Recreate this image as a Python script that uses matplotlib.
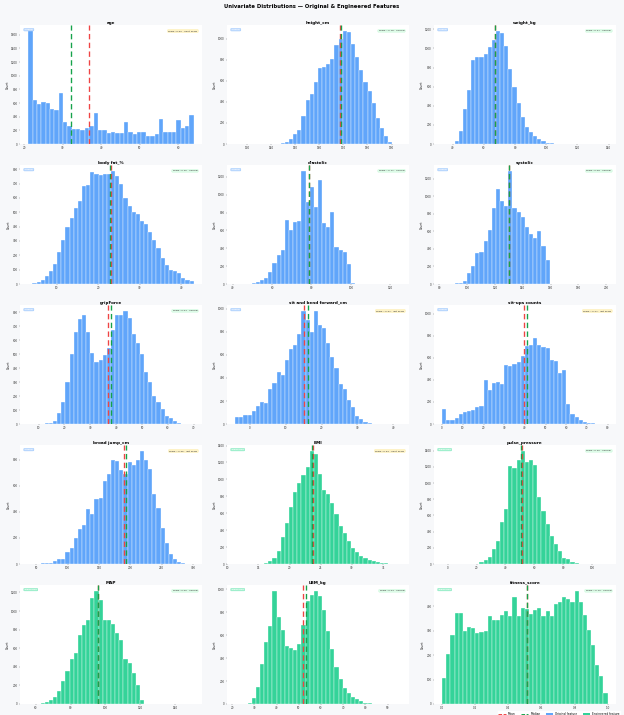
import matplotlib
matplotlib.use("Agg")
import matplotlib.pyplot as plt
import numpy as np
from matplotlib.lines import Line2D
from matplotlib.patches import Patch
from matplotlib.ticker import MultipleLocator, MaxNLocator, FormatStrFormatter

# ---------------- data ----------------
features = ["age", "height_cm", "weight_kg",
            "body fat_%", "diastolic", "systolic",
            "gripForce", "sit and bend forward_cm", "sit-ups counts",
            "broad jump_cm", "BMI", "pulse_pressure",
            "MAP", "LBM_kg", "fitness_score"]
kinds = ["Original"] * 10 + ["Engineered"] * 5

bin_ranges = [(21, 64), (125, 193.8), (33.3, 139.3),
              (3.2, 43.0), (41.3, 125.3), (82, 201),
              (6, 70), (-4, 42), (0, 80),
              (37, 301), (11.3, 37.8), (-4, 111),
              (55.7, 150.8), (21.4, 95.9), (0, 1)]

age_counts = [1660, 640, 590, 610, 605, 520, 500, 750, 320, 260, 215, 215, 205,
              230, 270, 450, 200, 200, 165, 180, 155, 160, 330, 180, 150, 170,
              180, 125, 125, 140, 360, 170, 170, 180, 350, 240, 260, 420]
height_counts = [1, 0, 0, 1, 0, 1, 2, 2, 3, 3, 5,
                 8, 22, 45, 95, 135, 265, 415, 470, 585, 720, 735, 760, 810, 940, 1000,
                 1075, 1060, 945, 830, 700, 590, 500, 390, 250, 150, 80, 20, 5, 2]
weight_counts = [1, 2, 5, 30, 140, 370, 560, 875, 910, 910, 940, 1010, 1090, 1185,
                 1160, 1030, 780, 600, 430, 285, 180, 125, 80, 55, 30, 15, 8, 5,
                 3, 2, 2, 1, 1, 1, 0, 1, 0, 0, 0, 1]
bodyfat_counts = [3, 5, 15, 25, 55, 90, 140, 225, 310, 395,
                  460, 530, 580, 680, 690, 780, 770, 760, 765, 770,
                  790, 750, 700, 600, 545, 505, 490, 440, 420, 360,
                  305, 250, 180, 135, 95, 90, 75, 40, 25, 20]
diastolic_counts = [1, 1, 3, 5, 10, 20, 40, 70, 130, 240, 320, 380, 720, 600, 690,
                    710, 1270, 920, 1090, 865, 1170, 680, 635, 810, 410, 380, 360,
                    220, 10, 3, 0, 2, 0, 1, 0, 0, 0, 0, 0, 1]
systolic_counts = [1, 2, 5, 10, 15, 30, 120, 200, 350, 370, 490, 610, 865, 1085,
                   950, 890, 1290, 870, 820, 760, 650, 570, 520, 605, 430, 270, 5,
                   2, 1, 0, 1, 0, 0, 0, 1, 0, 0, 0, 0, 1]
grip_counts = [1, 0, 1, 2, 5, 10, 20, 80, 160, 300, 500, 660, 750, 780, 660, 510,
               445, 460, 495, 545, 670, 780, 780, 810, 760, 640, 580, 500, 370, 300,
               200, 155, 105, 60, 40, 20, 5, 2, 1, 1]
sitbend_counts = [65, 60, 75, 75, 110, 160, 195, 180, 300, 360, 450, 430, 560, 650,
                  690, 780, 985, 900, 800, 980, 860, 830, 700, 580, 490, 350, 300,
                  210, 150, 70, 40, 15, 5, 3, 2, 1, 1, 0, 0, 1]
situps_counts = [140, 35, 40, 55, 95, 105, 115, 125, 150, 160, 400, 310, 370, 380,
                 365, 540, 530, 545, 560, 615, 710, 720, 780, 720, 700, 690, 580,
                 570, 460, 490, 185, 90, 60, 40, 20, 10, 5, 3, 2, 1]
broadjump_counts = [1, 2, 3, 5, 8, 10, 20, 35, 35, 95, 120, 200, 270, 300, 420, 385,
                    500, 510, 640, 690, 800, 790, 725, 690, 780, 760, 800, 870, 800,
                    730, 540, 430, 280, 160, 80, 35, 15, 5, 2, 1]
bmi_counts = [1, 0, 1, 0, 1, 1, 3, 10, 40, 70, 150, 320, 490, 670, 855, 960, 1050,
              1150, 1340, 1300, 1060, 870, 830, 720, 590, 450, 370, 270, 190, 140,
              100, 70, 50, 35, 20, 12, 6, 3, 1, 1]
pulse_counts = [1, 0, 0, 0, 0, 1, 0, 1, 5, 20, 45, 90, 180, 290, 520, 680, 1210,
                1180, 1290, 1400, 1260, 1280, 1220, 830, 650, 500, 340, 250, 165, 80,
                60, 25, 10, 5, 2, 1, 1, 0, 0, 1]
map_counts = [1, 3, 5, 10, 20, 40, 75, 140, 250, 350, 480, 550, 740, 850, 900, 1140,
              1220, 1120, 900, 900, 860, 760, 690, 480, 440, 330, 200, 40, 5, 3, 2,
              1, 0, 0, 1, 0, 0, 0, 0, 1]
lbm_counts = [1, 1, 2, 5, 50, 150, 350, 540, 680, 990, 760, 650, 510, 485, 470, 520,
              690, 900, 950, 990, 940, 820, 640, 480, 320, 220, 140, 100, 60, 40, 30,
              10, 5, 3, 2, 1, 1, 0, 0, 1]
fitness_counts = [105, 205, 285, 375, 375, 300, 315, 310, 290, 295,
                  300, 360, 345, 345, 365, 380, 360, 440, 360, 395,
                  390, 370, 385, 395, 360, 380, 360, 410, 420, 440,
                  430, 420, 465, 420, 365, 305, 240, 160, 115, 45]

all_counts = [age_counts, height_counts, weight_counts,
              bodyfat_counts, diastolic_counts, systolic_counts,
              grip_counts, sitbend_counts, situps_counts,
              broadjump_counts, bmi_counts, pulse_counts,
              map_counts, lbm_counts, fitness_counts]

means = [36.8, 168.6, 67.4, 23.2, 78.8, 130.2, 37.0, 15.2, 39.8,
         190.1, 23.7, 51.4, 95.9, 52.0, 0.512]
medians = [32.0, 169.2, 67.4, 22.8, 79.0, 130.0, 37.9, 16.2, 41.0,
           193.0, 23.6, 51.0, 96.0, 53.4, 0.515]
skews = [0.60, -0.18, 0.27, 0.25, -0.11, 0.08, 0.04, -0.37, -0.47,
         -0.35, 0.33, 0.26, 0.06, 0.03, -0.10]
x_steps = [10, 10, 20, 10, 20, 20, 10, 10, 10, 50, 5, 20, 20, 10, 0.2]
y_tops = [None, None, None, None, None, None, None, None, 1080,
          None, None, None, None, None, None]

# ---------------- styling ----------------
BLUE = "#60a5fa"
GREEN = "#34d399"
RED = "#ef4444"
MED = "#16a34a"
FIG_BG = "#f7f8fa"

W = 18.0
DPI = 624 / W
fig, axes = plt.subplots(5, 3, figsize=(W, 715 / DPI), dpi=DPI)
fig.patch.set_facecolor(FIG_BG)
fig.subplots_adjust(left=0.032, right=0.987, top=0.965, bottom=0.0154,
                    hspace=0.176, wspace=0.137)

for i, ax in enumerate(axes.flat):
    name = features[i]
    kind = kinds[i]
    lo, hi = bin_ranges[i]
    cnt = np.asarray(all_counts[i], dtype=float)
    edges = np.linspace(lo, hi, len(cnt) + 1)
    color = BLUE if kind == "Original" else GREEN
    ax.set_facecolor("white")
    ax.hist(edges[:-1], bins=edges, weights=cnt, color=color,
            edgecolor="white", linewidth=0.7)
    ax.axvline(means[i], color=RED, ls=(0, (4, 2.5)), lw=2.8, zorder=3)
    ax.axvline(medians[i], color=MED, ls=(0, (4, 2.5)), lw=2.8, zorder=3)
    if y_tops[i] is not None:
        ax.set_ylim(0, y_tops[i])

    for s in ax.spines.values():
        s.set_visible(False)
    ax.tick_params(labelsize=5.6, length=2.5, width=0.6, colors="#333333", pad=2)
    ax.xaxis.set_major_locator(MultipleLocator(x_steps[i]))
    ax.yaxis.set_major_locator(MaxNLocator(9, steps=[1, 2, 2.5, 5, 10]))
    if name == "fitness_score":
        ax.xaxis.set_major_formatter(FormatStrFormatter("%.1f"))
    ax.set_ylabel("Count", fontsize=6, labelpad=3)
    ax.set_title(name, fontsize=8.5, fontweight="bold", pad=3)

    sk = skews[i]
    if sk > 0.3:
        desc, bg, ec = "right skew", "#fef3c7", "#fde68a"
    elif sk < -0.3:
        desc, bg, ec = "left skew", "#fef3c7", "#fde68a"
    else:
        desc, bg, ec = "normal", "#dcfce7", "#bbf7d0"
    ax.text(0.975, 0.955, f"skew={sk:.2f} · {desc}", transform=ax.transAxes,
            ha="right", va="top", fontsize=5.2, color="#333333",
            bbox=dict(boxstyle="round,pad=0.35", facecolor=bg, edgecolor=ec, lw=0.6))
    tag_bg = "#bfdbfe" if kind == "Original" else "#a7f3d0"
    ax.text(0.025, 0.965, kind, transform=ax.transAxes, ha="left", va="top",
            fontsize=4.8, color="white",
            bbox=dict(boxstyle="round,pad=0.35", facecolor=tag_bg,
                      edgecolor=color, lw=0.5, alpha=0.9))

fig.suptitle("Univariate Distributions — Original & Engineered Features",
             fontsize=11, fontweight="bold", y=0.995)

handles = [Line2D([0], [0], color=RED, ls="--", lw=2, label="Mean"),
           Line2D([0], [0], color=MED, ls="--", lw=2, label="Median"),
           Patch(facecolor=BLUE, label="Original feature"),
           Patch(facecolor=GREEN, label="Engineered feature")]
fig.legend(handles=handles, loc="lower right", bbox_to_anchor=(0.997, -0.004),
           ncol=4, fontsize=6, frameon=True, facecolor="white", edgecolor="white",
           framealpha=1, handlelength=2.5, columnspacing=1.8, borderpad=0.3)

fig.savefig("out.png", dpi=DPI, facecolor=FIG_BG)
